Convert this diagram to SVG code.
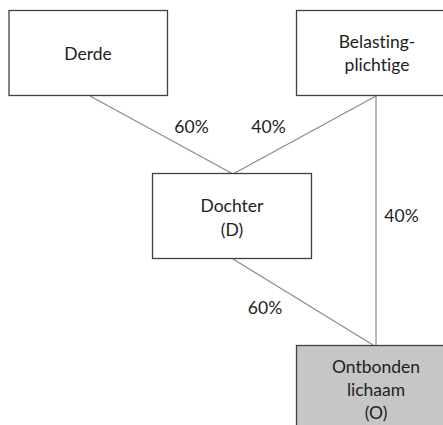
<svg xmlns="http://www.w3.org/2000/svg" width="443" height="425" viewBox="0 0 443 425">
<style>
.box{fill:#ffffff;stroke:#404040;stroke-width:1.3}
.grey{fill:#c6c6c6}
.t{font-family:Lato,"Liberation Sans",sans-serif;font-size:17.5px;fill:#1e1e1e;text-anchor:middle;font-variant-ligatures:none;font-feature-settings:"liga" 0}
.c{stroke:#8a8a8a;stroke-width:1.2;fill:none}
</style>
<rect width="443" height="425" fill="#ffffff"/>
<g id="connectors">
<line class="c" x1="90" y1="96" x2="233" y2="174"/>
<line class="c" x1="376" y1="96" x2="233" y2="174"/>
<line class="c" x1="376" y1="96" x2="376" y2="345"/>
<line class="c" x1="233" y1="259" x2="373" y2="345"/>
<text class="t" x="191.5" y="133">60%</text>
<text class="t" x="268.5" y="133">40%</text>
<text class="t" x="401.5" y="222">40%</text>
<text class="t" x="265" y="314">60%</text>
</g>
<g id="derde">
<rect class="box" x="9" y="10.5" width="158.5" height="85"/>
<text class="t" x="88" y="60">Derde</text>
</g>
<g id="belastingplichtige">
<rect class="box" x="296.5" y="10.5" width="160" height="85"/>
<text class="t" x="377" y="48">Belasting-</text>
<text class="t" x="377" y="71">plichtige</text>
</g>
<g id="dochter">
<rect class="box" x="152.5" y="173.5" width="159" height="85"/>
<text class="t" x="232" y="212">Dochter</text>
<text class="t" x="232" y="236">(D)</text>
</g>
<g id="ontbonden">
<rect class="box grey" x="296.5" y="345.5" width="160" height="85"/>
<text class="t" x="376" y="373">Ontbonden</text>
<text class="t" x="376" y="396">lichaam</text>
<text class="t" x="376" y="419">(O)</text>
</g>
</svg>
